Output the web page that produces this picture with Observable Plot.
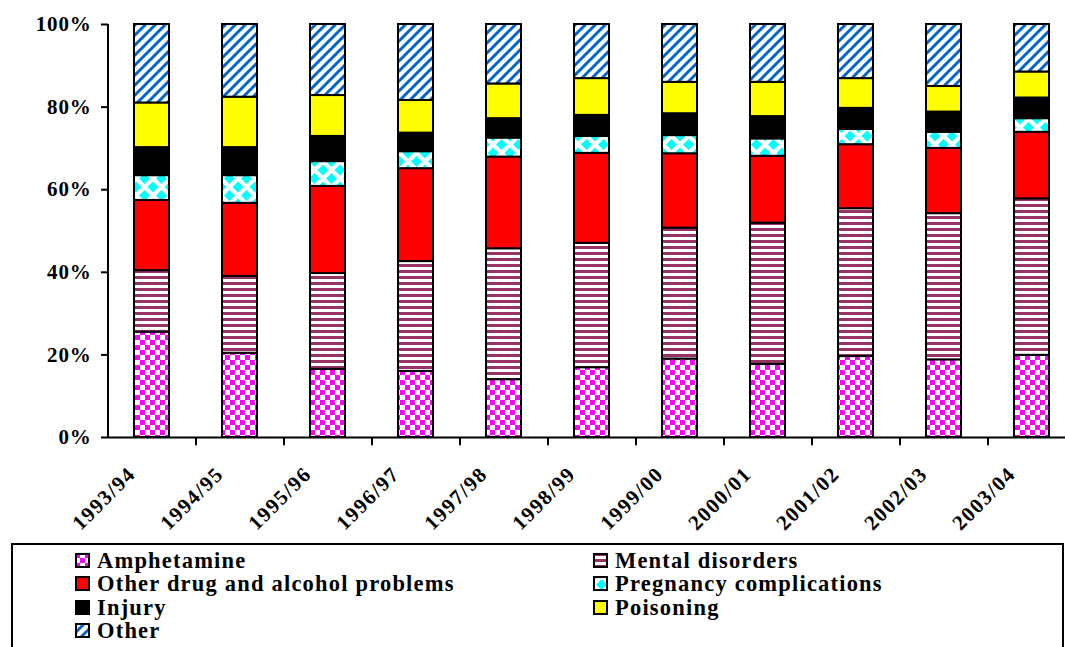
<!DOCTYPE html>
<html><head><meta charset="utf-8">
<script src="https://cdn.jsdelivr.net/npm/d3@7"></script>
<script src="https://cdn.jsdelivr.net/npm/@observablehq/plot@0.6"></script>
<style>
body{margin:0;padding:0;background:#fff;}
.serif{font-family:"Liberation Serif",serif;font-weight:bold;}
#chart{position:relative;width:1065px;height:647px;}
#chart > svg{position:absolute;left:0;top:0;}
#legend{position:absolute;left:11px;top:543px;width:1053px;height:104px;box-sizing:border-box;border:2px solid #000;border-bottom:none;
  padding:4px 0 0 62px;display:grid;grid-template-columns:518px auto;grid-auto-rows:23.3px;
  font-size:22.5px;line-height:23.3px;letter-spacing:1.2px;color:#000;}
#legend .item{white-space:nowrap;}
#legend svg{vertical-align:baseline;margin-right:7px;}
</style>
</head><body>
<div id="chart" class="serif"></div>
<script>
const years = ["1993/94","1994/95","1995/96","1996/97","1997/98","1998/99","1999/00","2000/01","2001/02","2002/03","2003/04"];
const causes = ["Amphetamine","Mental disorders","Other drug and alcohol problems","Pregnancy complications","Injury","Poisoning","Other"];
const amphetamine      = [25.5,20.4,16.5,16.0,14.0,16.9,19.0,17.7,19.6,18.8,19.9];
const mentalDisorders  = [14.9,18.6,23.2,26.6,31.7,30.1,31.7,34.2,35.8,35.4,37.9];
const otherDrugAlcohol = [17.0,17.7,21.1,22.5,22.2,21.8,18.0,16.2,15.5,15.8,16.1];
const pregnancy        = [6.0,6.7,6.0,4.1,4.6,4.1,4.4,4.2,3.7,3.9,3.3];
const injury           = [6.8,6.8,6.1,4.5,4.7,5.1,5.3,5.4,5.1,4.9,5.0];
const poisoning        = [10.8,12.2,9.9,7.9,8.4,8.9,7.6,8.3,7.2,6.2,6.3];
const other            = [19.0,17.6,17.2,18.4,14.4,13.1,14.0,14.0,13.1,15.0,11.5];
const yTicks = [0,20,40,60,80,100];

const series = [amphetamine, mentalDisorders, otherDrugAlcohol, pregnancy, injury, poisoning, other];
const fills = ["url(#pat-amph)","url(#pat-mental)","#FF0000","url(#pat-preg)","#000000","#FFFF00","url(#pat-other)"];
const table = years.flatMap((year, i) => causes.map((cause, j) => ({year, cause, value: series[j][i]})));

const plot = Plot.plot({
  width: 1065, height: 540,
  marginLeft: 108, marginRight: 0, marginTop: 24, marginBottom: 103,
  style: {fontFamily: "Liberation Serif", fontSize: "21px", fontWeight: "bold", background: "white", color: "black"},
  x: {type: "band", domain: years, range: [108, 1076], paddingInner: 0.6, paddingOuter: 0.3},
  y: {domain: [0, 100]},
  color: {type: "ordinal", domain: causes, range: fills},
  marks: [
    Plot.barY(table, {x: "year", y: "value", fill: "cause", stroke: "black", strokeWidth: 2}),
    Plot.ruleY([0], {strokeWidth: 2}),
    Plot.ruleX([years[0]], {y1: 0, y2: 100, dx: -44, strokeWidth: 2}),
    Plot.ruleX(years, {y1: 0, y2: -2, dx: 44, strokeWidth: 2}),
    Plot.axisY({ticks: yTicks, tickFormat: d => d + "%", tickSize: 7, tickPadding: 10, strokeWidth: 2, fontSize: 21, fontWeight: "bold", fontFamily: "Liberation Serif", label: null}),
    Plot.axisX({tickRotate: -45, tickSize: 0, tickPadding: 33, dx: -20, fontSize: 21, fontWeight: "bold", fontFamily: "Liberation Serif", label: null})
  ]
});

d3.select(plot).insert("defs", ":first-child").html(`
<pattern id="pat-amph" patternUnits="userSpaceOnUse" width="10" height="10">
 <rect width="10" height="10" fill="#fff"/>
 <rect width="5" height="5" fill="#FF00FF"/>
 <rect x="5" y="5" width="5" height="5" fill="#FF00FF"/>
</pattern>
<pattern id="pat-mental" patternUnits="userSpaceOnUse" width="6" height="6">
 <rect width="6" height="6" fill="#fff"/>
 <rect y="0" width="6" height="3" fill="#993366"/>
</pattern>
<pattern id="pat-preg" patternUnits="userSpaceOnUse" width="17" height="17">
 <rect width="17" height="17" fill="#fff"/>
 <path d="M8.5,3L14,8.5L8.5,14L3,8.5Z M0,-5.5L5.5,0L0,5.5L-5.5,0Z M17,-5.5L22.5,0L17,5.5L11.5,0Z M0,11.5L5.5,17L0,22.5L-5.5,17Z M17,11.5L22.5,17L17,22.5L11.5,17Z" fill="#00FFFF"/>
</pattern>
<pattern id="pat-other" patternUnits="userSpaceOnUse" width="10" height="10">
 <rect width="10" height="10" fill="#fff"/>
 <path d="M-2,2L2,-2 M0,10L10,0 M8,12L12,8" stroke="#0066CC" stroke-width="3"/>
</pattern>`);

const chart = document.getElementById("chart");
chart.appendChild(plot);

const legend = document.createElement("div");
legend.id = "legend";
causes.forEach((c, i) => {
  const item = document.createElement("div");
  item.className = "item";
  item.innerHTML = `<svg width="15" height="15"><rect x="1" y="1" width="13" height="13" fill="${fills[i]}" stroke="#000" stroke-width="2"/></svg>`;
  item.appendChild(document.createTextNode(c));
  legend.appendChild(item);
});
chart.appendChild(legend);

// force the serif face on every text-bearing element
d3.select(plot).selectAll("text").each(function() {
  this.style.fontFamily = "Liberation Serif";
  this.style.fontWeight = "bold";
});
d3.select(plot).selectAll("g[aria-label='x-axis tick label'] text").style("letter-spacing", "1.5px");
d3.select(plot).selectAll("g[aria-label='y-axis tick label'] text").style("letter-spacing", "0.8px");
legend.querySelectorAll(".item").forEach(el => {
  el.style.fontFamily = "Liberation Serif";
  el.style.fontWeight = "bold";
});
</script>
</body></html>
